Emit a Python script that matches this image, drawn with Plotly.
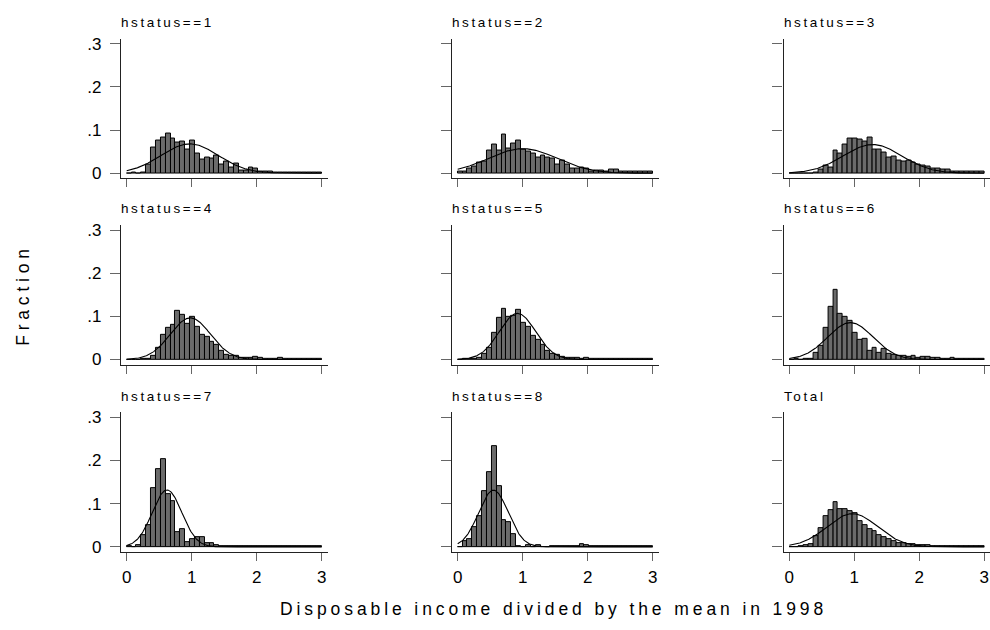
import numpy as np
import plotly.graph_objects as go

# ---------------- data ----------------
panel_titles = ["hstatus==1", "hstatus==2", "hstatus==3",
                "hstatus==4", "hstatus==5", "hstatus==6",
                "hstatus==7", "hstatus==8", "Total"]

bin_width = 0.075
n_bins = 40
bin_start = 0.0

frac_1 = [0, 0.0015, 0, 0.0015, 0.021, 0.060, 0.076, 0.083, 0.092, 0.081,
          0.070, 0.074, 0.055, 0.076, 0.045, 0.031, 0.037, 0.033, 0.040, 0.021,
          0.026, 0.014, 0.023, 0.007, 0.007, 0.014, 0.011, 0.005, 0.005, 0.004,
          0.002, 0.002, 0.002, 0.002, 0.002, 0.002, 0.002, 0.002, 0.002, 0.002]
frac_2 = [0.003, 0.003, 0.011, 0.015, 0.025, 0.027, 0.052, 0.066, 0.053, 0.089,
          0.057, 0.069, 0.076, 0.055, 0.051, 0.046, 0.036, 0.042, 0.036, 0.033,
          0.021, 0.029, 0.020, 0.011, 0.011, 0.014, 0.011, 0.005, 0.007, 0.006,
          0.005, 0.009, 0.008, 0.003, 0.005, 0.003, 0.003, 0.005, 0.005, 0.005]
frac_3 = [0, 0, 0, 0, 0, 0.002, 0.008, 0.017, 0.014, 0.053,
          0.046, 0.067, 0.080, 0.080, 0.077, 0.073, 0.082, 0.055, 0.055, 0.048,
          0.036, 0.038, 0.030, 0.027, 0.029, 0.024, 0.020, 0.019, 0.015, 0.011,
          0.011, 0.009, 0.008, 0.005, 0.005, 0.005, 0.005, 0.003, 0.005, 0.005]
frac_4 = [0, 0, 0, 0.0015, 0.002, 0.008, 0.026, 0.057, 0.074, 0.081,
          0.112, 0.103, 0.083, 0.099, 0.076, 0.058, 0.052, 0.041, 0.034, 0.021,
          0.012, 0.009, 0.008, 0.005, 0.004, 0.003, 0.006, 0.003, 0.002, 0.002,
          0.002, 0.004, 0.002, 0.002, 0.002, 0.002, 0.002, 0.002, 0.002, 0.002]
frac_5 = [0, 0.0015, 0.002, 0.0015, 0.004, 0.013, 0.027, 0.063, 0.096, 0.118,
          0.098, 0.102, 0.115, 0.086, 0.075, 0.056, 0.045, 0.034, 0.021, 0.014,
          0.010, 0.006, 0.004, 0.004, 0.003, 0.002, 0.005, 0.002, 0.002, 0.002,
          0.002, 0.002, 0.002, 0.002, 0.002, 0.002, 0.002, 0.002, 0.002, 0.002]
frac_6 = [0, 0.0015, 0, 0.0015, 0.002, 0.015, 0.031, 0.073, 0.123, 0.162,
          0.107, 0.099, 0.089, 0.063, 0.045, 0.048, 0.020, 0.027, 0.015, 0.024,
          0.014, 0.010, 0.008, 0.008, 0.006, 0.008, 0.004, 0.006, 0.006, 0.004,
          0.004, 0.002, 0.002, 0.004, 0.002, 0.002, 0.002, 0.002, 0.002, 0.002]
frac_7 = [0.0015, 0, 0.005, 0.027, 0.051, 0.136, 0.179, 0.202, 0.122, 0.107,
          0.035, 0.042, 0.011, 0.017, 0.023, 0.023, 0.008, 0.008, 0.003, 0.001,
          0.001, 0.001, 0.001, 0.001, 0.001, 0.001, 0.001, 0.001, 0.001, 0.001,
          0.001, 0.001, 0.001, 0.001, 0.001, 0.001, 0.001, 0.001, 0.001, 0.001]
frac_8 = [0, 0.013, 0.017, 0.046, 0.070, 0.130, 0.172, 0.234, 0.140, 0.063,
          0.057, 0.030, 0.0015, 0, 0.005, 0, 0.005, 0, 0, 0.0015,
          0.001, 0.001, 0.001, 0.001, 0.001, 0.006, 0.003, 0.001, 0.001, 0.001,
          0.001, 0.001, 0.001, 0.001, 0.001, 0.001, 0.001, 0.001, 0.001, 0.001]
frac_total = [0, 0, 0.001, 0.004, 0.007, 0.024, 0.043, 0.072, 0.085, 0.103,
              0.087, 0.088, 0.083, 0.078, 0.060, 0.051, 0.042, 0.037, 0.028, 0.023,
              0.017, 0.013, 0.009, 0.008, 0.007, 0.006, 0.005, 0.005, 0.003, 0.002,
              0.002, 0.002, 0.002, 0.002, 0.001, 0.001, 0.001, 0.001, 0.001, 0.001]
fractions = [frac_1, frac_2, frac_3, frac_4, frac_5, frac_6, frac_7, frac_8, frac_total]

# normal overlay parameters (mean, sd) per panel
normal_mean = [0.97, 1.00, 1.28, 0.98, 0.92, 0.94, 0.62, 0.55, 0.97]
normal_sd = [0.44, 0.525, 0.45, 0.31, 0.28, 0.35, 0.227, 0.228, 0.39]

y_tick_vals = [0, 0.1, 0.2, 0.3]
y_tick_text = ["0", ".1", ".2", ".3"]
x_tick_vals = [0, 1, 2, 3]
x_tick_text = ["0", "1", "2", "3"]

x_title = "Disposable income divided by the mean in 1998"
y_title = "Fraction"

# ---------------- layout geometry (pixels) ----------------
W, H = 990, 630
px_per_x = 65.0
px_per_y = 438.0
col_zero_px = [126.7, 457.7, 789.3]
row_zero_px = [171.7, 360.7, 550.7]
x_lo, x_hi = -0.088, 3.1
y_lo, y_hi = -0.0115, 0.312

FONT = "Liberation Sans, Arial, Helvetica, sans-serif"
bar_fill = "#6b6b6b"

fig = go.Figure()
centers = [bin_start + bin_width * (i + 0.5) for i in range(n_bins)]
xs = np.linspace(0, 3, 301)

for k in range(9):
    r, c = divmod(k, 3)
    ax = "" if k == 0 else str(k + 1)
    fig.add_trace(go.Bar(
        x=centers, y=fractions[k], width=bin_width,
        marker=dict(color=bar_fill, line=dict(color="black", width=1)),
        xaxis="x" + ax, yaxis="y" + ax, showlegend=False, hoverinfo="skip"))
    m, s = normal_mean[k], normal_sd[k]
    ys = bin_width / (s * np.sqrt(2 * np.pi)) * np.exp(-(xs - m) ** 2 / (2 * s * s))
    fig.add_trace(go.Scatter(
        x=xs, y=ys, mode="lines", line=dict(color="black", width=1.1),
        xaxis="x" + ax, yaxis="y" + ax, showlegend=False, hoverinfo="skip"))

    left = col_zero_px[c] + x_lo * px_per_x
    right = min(W, col_zero_px[c] + x_hi * px_per_x)
    xr_hi = (right - col_zero_px[c]) / px_per_x
    top = row_zero_px[r] - y_hi * px_per_y
    bottom = row_zero_px[r] - y_lo * px_per_y

    xa = dict(domain=[left / W, right / W], range=[x_lo, xr_hi],
              anchor="y" + ax, showgrid=False, zeroline=False,
              showline=True, linecolor="#222", linewidth=1.4,
              ticks="outside", ticklen=8, tickwidth=1.4, tickcolor="#666",
              tickvals=x_tick_vals, ticktext=x_tick_text,
              showticklabels=(r == 2), ticklabelstandoff=2,
              tickfont=dict(family=FONT, size=17, color="black"),
              fixedrange=True)
    ya = dict(domain=[1 - bottom / H, 1 - top / H], range=[y_lo, y_hi],
              anchor="x" + ax, showgrid=False, zeroline=False,
              showline=True, linecolor="#222", linewidth=1.4,
              ticks="outside", ticklen=10, tickwidth=1.4, tickcolor="#666",
              tickvals=y_tick_vals, ticktext=y_tick_text,
              showticklabels=(c == 0), ticklabelstandoff=5,
              tickfont=dict(family=FONT, size=17, color="black"),
              fixedrange=True)
    fig.layout["xaxis" + ax] = xa
    fig.layout["yaxis" + ax] = ya

    fig.add_annotation(
        x=(left - 2) / W, y=1 - (row_zero_px[r] - 153) / H,
        xref="paper", yref="paper", xanchor="left", yanchor="middle",
        text='<span style="letter-spacing:2.6px">' + panel_titles[k] + '</span>',
        showarrow=False, font=dict(family=FONT, size=13.5, color="black"))

fig.add_annotation(
    x=553 / W, y=1 - 614 / H, xref="paper", yref="paper",
    xanchor="center", yanchor="middle",
    text='<span style="letter-spacing:3.9px">' + x_title + '</span>',
    showarrow=False, font=dict(family=FONT, size=17.5, color="black"))
fig.add_annotation(
    x=23 / W, y=1 - 295 / H, xref="paper", yref="paper",
    xanchor="center", yanchor="middle", textangle=-90,
    text='<span style="letter-spacing:4.8px">' + y_title + '</span>',
    showarrow=False, font=dict(family=FONT, size=17.5, color="black"))

fig.update_layout(
    width=W, height=H, margin=dict(l=0, r=0, t=0, b=0),
    paper_bgcolor="white", plot_bgcolor="white",
    bargap=0, barmode="overlay",
    font=dict(family=FONT, color="black"))

fig.write_html("out.html")
